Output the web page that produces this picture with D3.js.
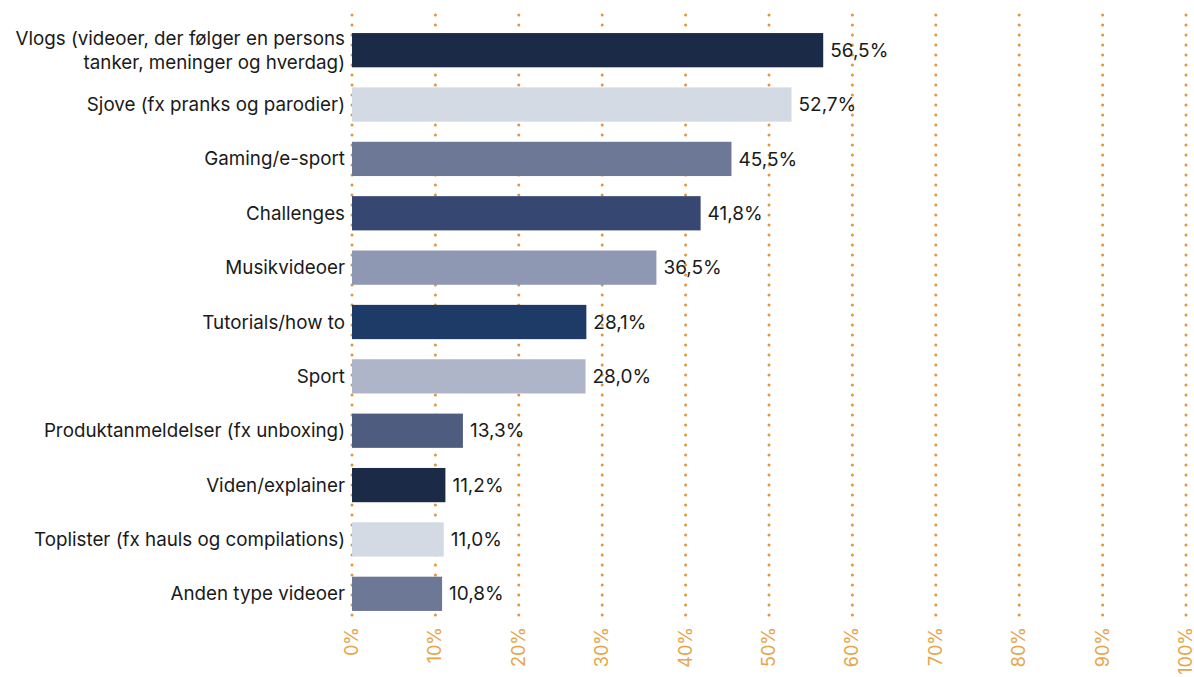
<!DOCTYPE html>
<html><head><meta charset="utf-8">
<script src="https://cdn.jsdelivr.net/npm/d3@7"></script>
<style>
html,body{margin:0;padding:0;background:#fff;}
svg{display:block;}
text{font-family:Inter,"Open Sans",sans-serif;}
</style></head>
<body>
<svg id="chart" width="1194" height="677"></svg>
<script>
const categories = [
  ["Vlogs (videoer, der følger en persons", "tanker, meninger og hverdag)"],
  ["Sjove (fx pranks og parodier)"],
  ["Gaming/e-sport"],
  ["Challenges"],
  ["Musikvideoer"],
  ["Tutorials/how to"],
  ["Sport"],
  ["Produktanmeldelser (fx unboxing)"],
  ["Viden/explainer"],
  ["Toplister (fx hauls og compilations)"],
  ["Anden type videoer"]
];
const values = [56.5, 52.7, 45.5, 41.8, 36.5, 28.1, 28.0, 13.3, 11.2, 11.0, 10.8];
const barColors = ["#1b2a47","#d3dae3","#6c7896","#364871","#8f98b3","#1e3a66","#aeb5c8","#4e5c80","#1b2a47","#d3dae3","#6c7896"];
const tickValues = [0,10,20,30,40,50,60,70,80,90,100];

const svg = d3.select("#chart");
const x = d3.scaleLinear().domain([0,100]).range([352,1186]);
const y = d3.scaleBand().domain(d3.range(categories.length)).range([23,621]).paddingInner(0.37).paddingOuter(0.185);
const grid = "#e0963a";

// grid lines (dotted)
const g = svg.append("g");
tickValues.forEach(t => {
  const dots = d3.range(15, 622, 10);
  g.selectAll(null).data(dots).enter().append("circle")
    .attr("cx", x(t)).attr("cy", d => d).attr("r", 1.5).attr("fill", grid);
});

// bars
svg.append("g").selectAll("rect").data(values).enter().append("rect")
  .attr("x", x(0)).attr("y", (d,i) => y(i))
  .attr("width", d => x(d) - x(0)).attr("height", y.bandwidth())
  .attr("fill", (d,i) => barColors[i]);

// value labels
const fmt = v => v.toFixed(1).replace(".", ",") + "%";
svg.append("g").selectAll("text").data(values).enter().append("text")
  .attr("x", d => x(d) + 7).attr("y", (d,i) => y(i) + y.bandwidth()/2)
  .attr("dy", "0.35em").attr("font-size", 19).attr("fill", "#1a1a1a")
  .text(d => fmt(d));

// category labels
const lab = svg.append("g");
categories.forEach((lines, i) => {
  const cy = y(i) + y.bandwidth()/2;
  const lh = 24;
  const t = lab.append("text").attr("text-anchor","end").attr("font-size",18.8).attr("fill","#1a1a1a");
  lines.forEach((ln, j) => {
    t.append("tspan").attr("x", 345)
      .attr("y", cy + (j - (lines.length-1)/2) * lh).attr("dy","0.35em").text(ln);
  });
});

// x axis tick labels rotated
svg.append("g").selectAll("text").data(tickValues).enter().append("text")
  .attr("transform", d => `translate(${x(d)+6},627) rotate(-90)`)
  .attr("text-anchor","end").attr("font-size",18).attr("fill","#e6a54a")
  .text(d => d + "%");
</script>
</body></html>
